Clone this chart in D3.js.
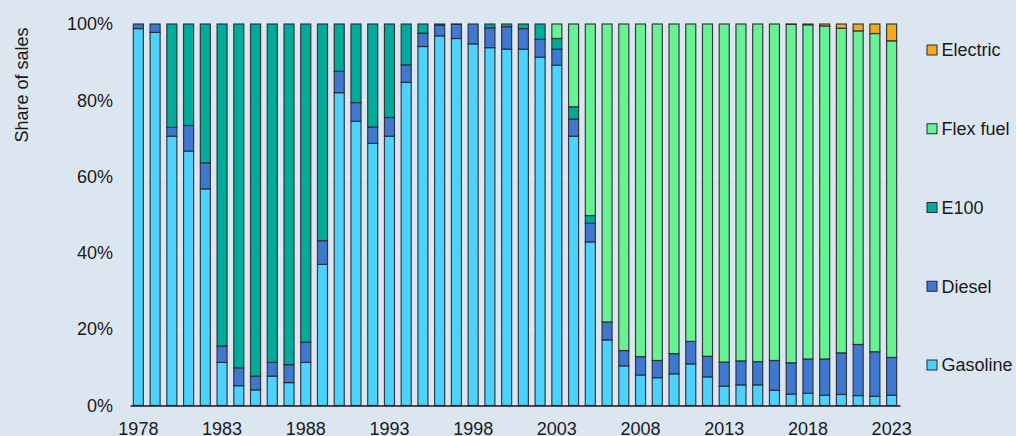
<!DOCTYPE html>
<html><head><meta charset="utf-8">
<script src="https://cdn.jsdelivr.net/npm/d3@7"></script>
<style>
html,body{margin:0;padding:0;background:#dce6f1;}
svg{display:block;font-family:"Liberation Sans",Arial,sans-serif;}
</style></head>
<body><svg id="c" width="1016" height="436"></svg>
<script>
const years = d3.range(1978, 2024);
const seriesNames = ["Gasoline","Diesel","E100","Flex fuel","Electric"];
const colors = ["#4dd2fd","#3f78d1","#00ab9c","#69f294","#f4a925"];
const gasoline = [98.8,97.8,70.6,66.7,56.8,11.3,5.2,4.1,7.7,6.0,11.3,37.0,82.0,74.5,68.7,70.6,84.7,94.1,96.9,96.2,94.8,93.8,93.4,93.4,91.3,89.2,70.6,42.9,17.2,10.4,8.0,7.3,8.3,10.9,7.5,5.1,5.4,5.4,4.0,3.0,3.2,2.7,2.9,2.6,2.4,2.7];
const diesel   = [1.2,2.2,2.3,6.7,6.8,4.3,4.7,3.6,3.6,4.7,5.3,6.2,5.6,4.9,4.3,4.9,4.6,3.5,2.8,3.7,5.2,5.2,5.9,5.4,4.7,4.2,4.5,4.9,4.7,4.0,4.8,4.5,5.3,5.9,5.4,6.3,6.3,6.1,7.8,8.2,9.0,9.5,10.9,13.4,11.7,9.9];
const e100     = [0,0,27.1,26.6,36.4,84.4,90.1,92.3,88.7,89.3,83.4,56.8,12.4,20.6,27.0,24.5,10.7,2.4,0.3,0.1,0,1.0,0.7,1.2,4.0,2.8,3.2,2.0,0,0,0,0,0,0,0,0,0,0,0,0,0,0,0,0,0,0];
const flexfuel = [0,0,0,0,0,0,0,0,0,0,0,0,0,0,0,0,0,0,0,0,0,0,0,0,0,3.8,21.7,50.2,78.1,85.6,87.2,88.2,86.4,83.2,87.1,88.6,88.3,88.5,88.2,88.7,87.6,87.3,85.1,82.2,83.4,83.0];
const electric = [0,0,0,0,0,0,0,0,0,0,0,0,0,0,0,0,0,0,0,0,0,0,0,0,0,0,0,0,0,0,0,0,0,0,0,0,0,0,0,0.1,0.2,0.5,1.1,1.8,2.5,4.4];
const yTicks = [0,20,40,60,80,100];
const xTickYears = d3.range(1978, 2024, 5);

const keys = ["gasoline","diesel","e100","flexfuel","electric"];
const rows = years.map((y,i)=>({year:y,gasoline:gasoline[i],diesel:diesel[i],e100:e100[i],flexfuel:flexfuel[i],electric:electric[i]}));
const stack = d3.stack().keys(keys)(rows);

const svg = d3.select("#c");
const FS = 18;
const x = d3.scaleBand().domain(years).range([130,900]).paddingInner(0.4).paddingOuter(0.2);
const y = d3.scaleLinear().domain([0,100]).range([405.5,24]);

// gridlines
svg.append("g").selectAll("line").data(yTicks.filter(d=>d>0)).join("line")
  .attr("x1",130).attr("x2",900).attr("y1",d=>y(d)).attr("y2",d=>y(d))
  .attr("stroke","#e9edf1").attr("stroke-width",1);

// bars
svg.append("g").selectAll("g").data(stack).join("g")
  .attr("fill",(d,i)=>colors[i])
  .selectAll("rect").data(d=>d.filter(s=>s[1]-s[0]>0)).join("rect")
  .attr("x",d=>x(d.data.year)).attr("width",x.bandwidth())
  .attr("y",d=>y(d[1])).attr("height",d=>y(d[0])-y(d[1]))
  .attr("stroke","#262a2e").attr("stroke-width",1.2).attr("stroke-opacity",0.9);

// x axis
const xAxis = d3.axisBottom(x).tickValues(xTickYears).tickSize(0).tickPadding(16.5);
const gx = svg.append("g").attr("transform","translate(0,405.5)").call(xAxis);
gx.select(".domain").attr("stroke","#1a1a1a").attr("stroke-width",1.5);
gx.selectAll("text").attr("font-size",FS).attr("fill","#1a1a1a").attr("font-family","Liberation Sans, Arial, sans-serif");

// y axis
const yAxis = d3.axisLeft(y).tickValues(yTicks).tickFormat(d=>d+"%").tickSize(0).tickPadding(17);
const gy = svg.append("g").attr("transform","translate(130,0)").call(yAxis);
gy.select(".domain").remove();
gy.selectAll("text").attr("font-size",FS).attr("fill","#1a1a1a").attr("font-family","Liberation Sans, Arial, sans-serif");

svg.append("text").attr("transform","translate(28,85) rotate(-90)")
  .attr("text-anchor","middle").attr("font-size",FS).attr("fill","#1a1a1a").text("Share of sales");

// legend
const legendY = d3.scalePoint().domain(seriesNames.slice().reverse()).range([50,365]);
const lg = svg.append("g").selectAll("g").data(seriesNames).join("g")
  .attr("transform",d=>`translate(927,${legendY(d)})`);
lg.append("rect").attr("x",0).attr("y",-5).attr("width",10).attr("height",10)
  .attr("fill",(d,i)=>colors[i]).attr("stroke","#262a2e").attr("stroke-width",1);
lg.append("text").attr("x",14.5).attr("dy","0.35em").attr("font-size",FS).attr("fill","#1a1a1a").text(d=>d);
</script></body></html>
